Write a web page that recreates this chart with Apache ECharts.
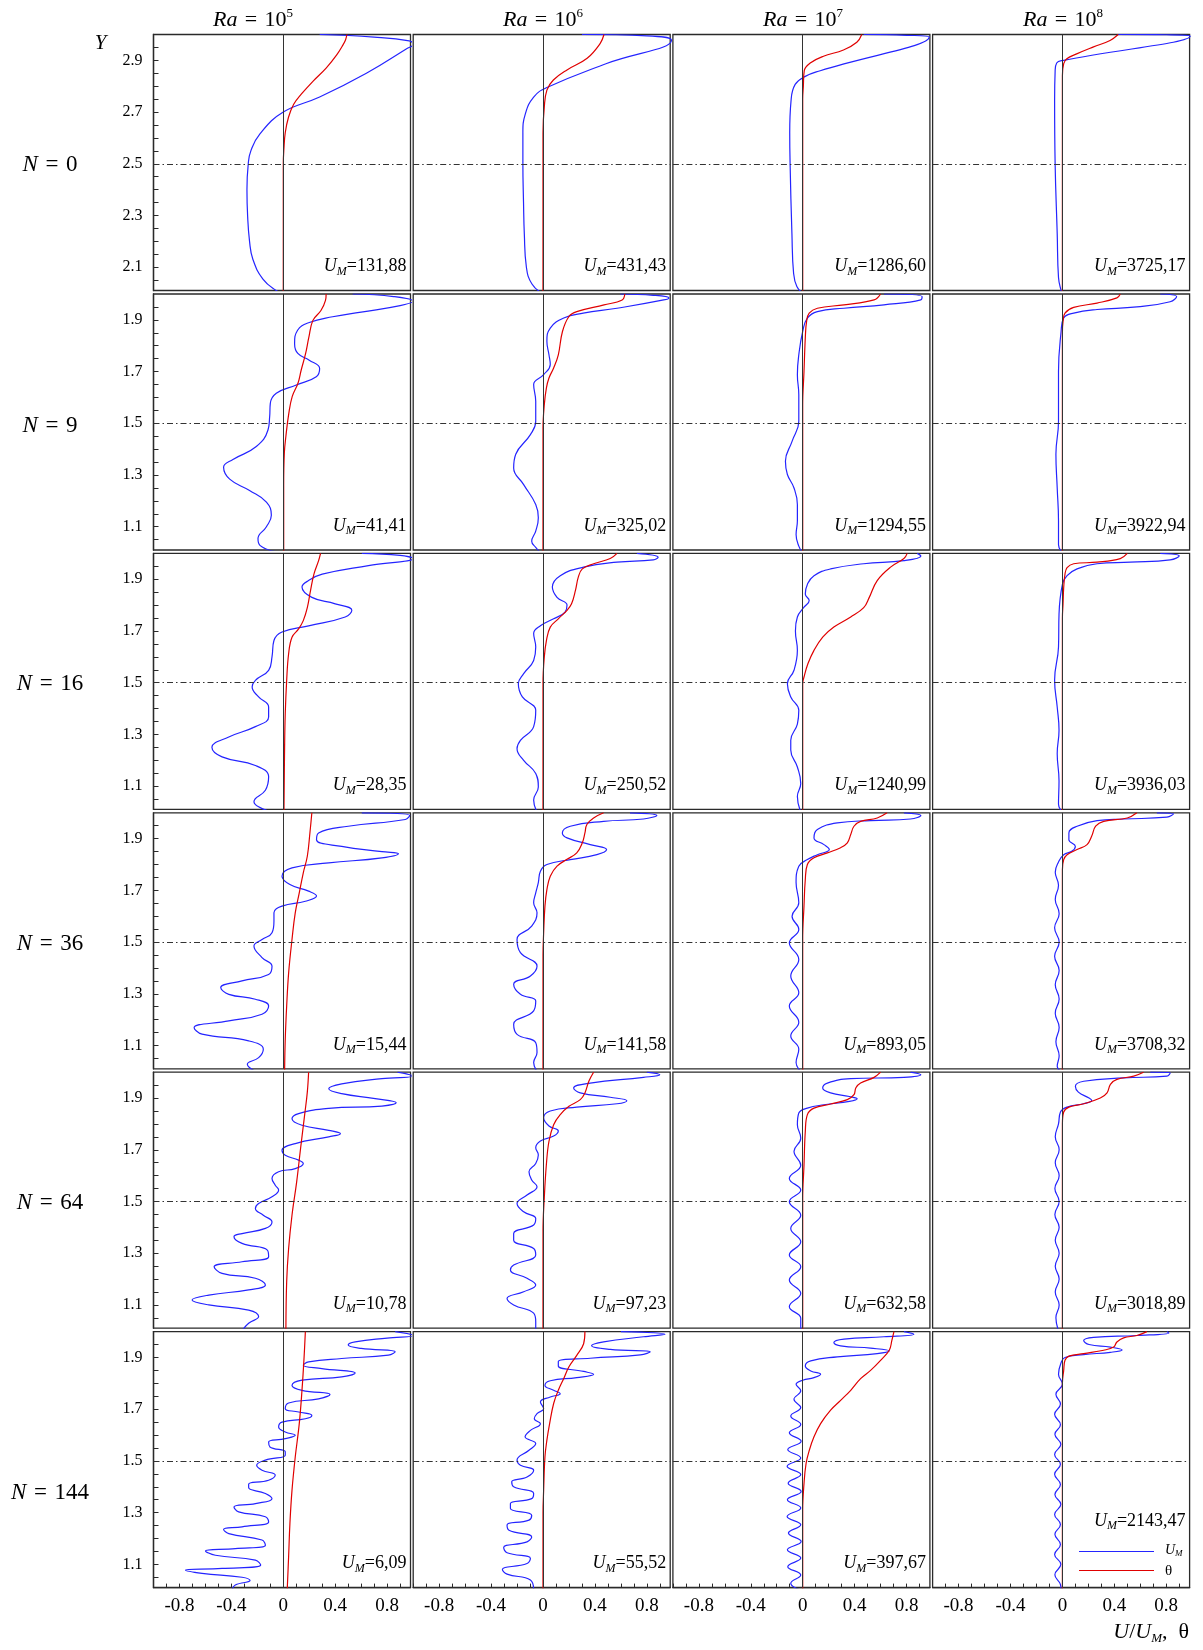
<!DOCTYPE html>
<html>
<head>
<meta charset="utf-8">
<script src="https://cdn.jsdelivr.net/npm/echarts@6/dist/echarts.min.js"></script>
<style>
  html, body { margin: 0; padding: 0; background: #fff; }
  #chart { width: 1203px; height: 1650px; }
</style>
</head>
<body>
<div id="chart"></div>
<script>
// ---- Column / row headings ----
const raExponents = ['5', '6', '7', '8'];
const nValues = ['0', '9', '16', '36', '64', '144'];

// ---- Maximum velocity printed in each panel (per row, Ra = 1e5 .. 1e8) ----
const umN0   = ['131,88', '431,43', '1286,60', '3725,17'];
const umN9   = ['41,41', '325,02', '1294,55', '3922,94'];
const umN16  = ['28,35', '250,52', '1240,99', '3936,03'];
const umN36  = ['15,44', '141,58', '893,05', '3708,32'];
const umN64  = ['10,78', '97,23', '632,58', '3018,89'];
const umN144 = ['6,09', '55,52', '397,67', '2143,47'];

// ---- Tick positions and labels ----
const xTickValues = [-1.0, -0.9, -0.8, -0.7, -0.6, -0.5, -0.4, -0.3, -0.2, -0.1, 0, 0.1, 0.2, 0.3, 0.4, 0.5, 0.6, 0.7, 0.8, 0.9];
const xLabelValues = [-0.8, -0.4, 0, 0.4, 0.8];
const yTickValuesTop = [2.05, 2.1, 2.15, 2.2, 2.25, 2.3, 2.35, 2.4, 2.45, 2.5, 2.55, 2.6, 2.65, 2.7, 2.75, 2.8, 2.85, 2.9, 2.95];
const yLabelValuesTop = [2.1, 2.3, 2.5, 2.7, 2.9];
const yTickValues = [1.05, 1.1, 1.15, 1.2, 1.25, 1.3, 1.35, 1.4, 1.45, 1.5, 1.55, 1.6, 1.65, 1.7, 1.75, 1.8, 1.85, 1.9, 1.95];
const yLabelValues = [1.1, 1.3, 1.5, 1.7, 1.9];
const midLines = [2.5, 1.5, 1.5, 1.5, 1.5, 1.5];

// ---- Profiles [U/U_M or theta, Y] ----
// N = 0
const uN0Ra5 = [[0.28,3.0],[0.7,2.99],[0.97,2.975],[1.0,2.962],[0.95,2.945],[0.64,2.85],[0.28,2.758],[0,2.70],[-0.18,2.616],[-0.25,2.55],[-0.27,2.5],[-0.28,2.4],[-0.275,2.3],[-0.26,2.2],[-0.234,2.13],[-0.157,2.054],[-0.055,2.01],[0,2.0]];
const tN0Ra5 = [[0.49,3.0],[0.48,2.98],[0.46,2.96],[0.41,2.92],[0.33,2.87],[0.23,2.82],[0.14,2.77],[0.08,2.73],[0.04,2.68],[0.015,2.62],[0.005,2.56],[0,2.5],[0,2.0]];
const uN0Ra6 = [[0.30,3.0],[0.8,2.995],[0.99,2.978],[0.49,2.888],[0.03,2.795],[-0.072,2.758],[-0.136,2.693],[-0.155,2.62],[-0.155,2.5],[-0.15,2.35],[-0.144,2.23],[-0.128,2.10],[-0.085,2.035],[-0.008,2.0]];
const tN0Ra6 = [[0.47,3.0],[0.44,2.965],[0.34,2.908],[0.185,2.863],[0.08,2.824],[0.03,2.785],[0.01,2.72],[0,2.62],[0,2.0]];
const uN0Ra7 = [[0.47,3.0],[0.8,2.997],[0.975,2.99],[0.135,2.86],[0.02,2.838],[-0.058,2.807],[-0.09,2.743],[-0.1,2.62],[-0.097,2.5],[-0.083,2.23],[-0.07,2.076],[-0.045,2.025],[0,2.0]];
const tN0Ra7 = [[0.455,3.0],[0.417,2.97],[0.314,2.94],[0.16,2.916],[0.058,2.89],[0.012,2.86],[0.005,2.80],[0,2.75],[0,2.0]];
const uN0Ra8 = [[0.43,3.0],[0.8,2.999],[0.985,2.994],[0.01,2.90],[-0.044,2.89],[-0.056,2.858],[-0.06,2.745],[-0.056,2.5],[-0.04,2.23],[-0.03,2.06],[-0.01,2.01],[0,2.0]];
const tN0Ra8 = [[0.43,3.0],[0.367,2.977],[0.24,2.952],[0.11,2.925],[0.034,2.906],[0.01,2.887],[0,2.84],[0,2.0]];
// N = 9
const uN9Ra5 = [[0.535,2.0],[0.85,1.99],[1.0,1.972],[0.9,1.955],[0.6,1.93],[0.38,1.912],[0.2,1.89],[0.11,1.86],[0.087,1.808],[0.112,1.77],[0.2,1.744],[0.28,1.712],[0.254,1.68],[0.1,1.648],[-0.054,1.616],[-0.1,1.577],[-0.105,1.526],[-0.118,1.474],[-0.208,1.41],[-0.388,1.36],[-0.46,1.33],[-0.413,1.284],[-0.26,1.24],[-0.13,1.195],[-0.092,1.144],[-0.13,1.1],[-0.195,1.054],[-0.18,1.028],[-0.054,1.003]];
const tN9Ra5 = [[0.33,2.0],[0.325,1.975],[0.29,1.936],[0.228,1.898],[0.197,1.833],[0.172,1.77],[0.138,1.706],[0.113,1.655],[0.069,1.604],[0.043,1.54],[0.02,1.45],[0.008,1.385],[0.003,1.26],[0.003,1.0]];
const uN9Ra6 = [[0.595,2.0],[0.85,1.995],[0.97,1.985],[0.93,1.977],[0.57,1.945],[0.31,1.926],[0.16,1.907],[0.056,1.868],[0.03,1.817],[0.046,1.765],[0.056,1.727],[0.005,1.688],[-0.072,1.65],[-0.056,1.585],[-0.056,1.508],[-0.097,1.456],[-0.21,1.38],[-0.226,1.327],[-0.149,1.263],[-0.056,1.186],[-0.036,1.135],[-0.056,1.083],[-0.087,1.044],[-0.056,1.02],[-0.02,1.0]];
const tN9Ra6 = [[0.63,2.0],[0.61,1.977],[0.47,1.958],[0.26,1.932],[0.2,1.913],[0.15,1.855],[0.118,1.765],[0.082,1.714],[0.046,1.675],[0.026,1.636],[0.01,1.572],[0,1.48],[0,1.0]];
const uN9Ra7 = [[0.626,2.0],[0.92,1.99],[0.91,1.977],[0.626,1.958],[0.318,1.945],[0.113,1.932],[0.036,1.907],[0,1.855],[-0.03,1.765],[-0.041,1.688],[-0.03,1.61],[-0.03,1.508],[-0.082,1.43],[-0.133,1.353],[-0.118,1.302],[-0.067,1.25],[-0.041,1.186],[-0.041,1.122],[-0.051,1.07],[-0.03,1.025],[0,1.0]];
const tN9Ra7 = [[0.6,2.0],[0.55,1.977],[0.318,1.958],[0.113,1.945],[0.05,1.926],[0.03,1.894],[0.02,1.83],[0.01,1.7],[0,1.57],[0,1.0]];
const uN9Ra8 = [[0.754,2.0],[0.88,1.99],[0.83,1.97],[0.574,1.95],[0.267,1.94],[0.087,1.926],[0.01,1.907],[-0.01,1.855],[-0.03,1.7],[-0.03,1.508],[-0.05,1.38],[-0.04,1.25],[-0.03,1.122],[-0.03,1.03],[0,1.0]];
const tN9Ra8 = [[0.446,2.0],[0.42,1.985],[0.267,1.965],[0.087,1.948],[0.02,1.926],[0.005,1.894],[0,1.85],[0,1.0]];
// N = 16
const uN16Ra5 = [[0.605,2.0],[0.9,1.992],[1.0,1.98],[0.656,1.953],[0.3,1.92],[0.195,1.895],[0.144,1.87],[0.22,1.83],[0.4,1.805],[0.528,1.78],[0.477,1.754],[0.195,1.72],[-0.01,1.696],[-0.072,1.663],[-0.087,1.6],[-0.113,1.548],[-0.215,1.509],[-0.24,1.483],[-0.19,1.445],[-0.113,1.406],[-0.113,1.367],[-0.215,1.33],[-0.42,1.29],[-0.55,1.25],[-0.472,1.213],[-0.215,1.18],[-0.113,1.136],[-0.138,1.084],[-0.226,1.04],[-0.19,1.02],[-0.087,1.0]];
const tN16Ra5 = [[0.287,2.0],[0.272,1.972],[0.236,1.92],[0.21,1.857],[0.185,1.79],[0.154,1.74],[0.118,1.708],[0.067,1.676],[0.041,1.612],[0.026,1.509],[0.015,1.38],[0.01,1.25],[0.005,1.0]];
const uN16Ra6 = [[0.723,2.0],[0.887,1.985],[0.85,1.975],[0.57,1.966],[0.313,1.947],[0.133,1.914],[0.072,1.87],[0.108,1.83],[0.185,1.8],[0.17,1.773],[0.082,1.747],[-0.02,1.72],[-0.072,1.69],[-0.056,1.638],[-0.072,1.586],[-0.149,1.535],[-0.19,1.496],[-0.159,1.445],[-0.056,1.393],[-0.072,1.33],[-0.174,1.277],[-0.2,1.245],[-0.149,1.2],[-0.056,1.149],[-0.036,1.097],[-0.072,1.046],[-0.046,1.0]];
const tN16Ra6 = [[0.57,2.0],[0.518,1.98],[0.39,1.96],[0.303,1.94],[0.272,1.908],[0.25,1.857],[0.22,1.805],[0.185,1.78],[0.118,1.747],[0.056,1.715],[0.026,1.662],[0.01,1.6],[0,1.5],[0,1.0]];
const uN16Ra7 = [[0.882,2.0],[0.91,1.99],[0.78,1.972],[0.47,1.96],[0.215,1.94],[0.087,1.914],[0.036,1.88],[0.02,1.843],[0.05,1.818],[0.01,1.792],[-0.041,1.754],[-0.056,1.7],[-0.041,1.625],[-0.067,1.548],[-0.118,1.496],[-0.092,1.445],[-0.03,1.393],[-0.041,1.34],[-0.092,1.277],[-0.092,1.24],[-0.041,1.174],[-0.015,1.11],[-0.041,1.06],[-0.015,1.0]];
const tN16Ra7 = [[0.805,2.0],[0.78,1.98],[0.677,1.947],[0.574,1.895],[0.513,1.83],[0.47,1.79],[0.37,1.754],[0.24,1.715],[0.154,1.676],[0.087,1.625],[0.04,1.573],[0.01,1.522],[0,1.496],[0,1.0]];
const uN16Ra8 = [[0.754,2.0],[0.9,1.99],[0.83,1.975],[0.523,1.966],[0.267,1.96],[0.113,1.94],[0.036,1.914],[0,1.88],[-0.026,1.766],[-0.03,1.638],[-0.06,1.51],[-0.04,1.406],[-0.026,1.316],[-0.04,1.226],[-0.026,1.12],[-0.03,1.03],[0,1.0]];
const tN16Ra8 = [[0.5,2.0],[0.446,1.98],[0.267,1.966],[0.087,1.96],[0.036,1.945],[0.02,1.92],[0.01,1.868],[0.005,1.805],[0,1.75],[0,1.0]];
// N = 36
const uN36Ra5 = [[0.605,2.0],[0.974,1.99],[0.94,1.974],[0.5,1.948],[0.272,1.922],[0.256,1.896],[0.45,1.87],[0.76,1.85],[0.887,1.842],[0.76,1.826],[0.35,1.806],[0.067,1.787],[-0.01,1.755],[0.051,1.723],[0.195,1.697],[0.256,1.678],[0.17,1.658],[-0.01,1.639],[-0.072,1.613],[-0.072,1.581],[-0.087,1.536],[-0.164,1.51],[-0.226,1.485],[-0.164,1.44],[-0.087,1.407],[-0.113,1.375],[-0.318,1.35],[-0.482,1.324],[-0.42,1.298],[-0.215,1.279],[-0.113,1.253],[-0.164,1.221],[-0.42,1.195],[-0.687,1.169],[-0.626,1.144],[-0.267,1.118],[-0.154,1.086],[-0.19,1.053],[-0.277,1.028],[-0.215,1.0]];
const tN36Ra5 = [[0.22,2.0],[0.205,1.922],[0.185,1.832],[0.154,1.768],[0.123,1.69],[0.092,1.613],[0.067,1.51],[0.041,1.38],[0.026,1.253],[0.015,1.124],[0.01,1.0]];
const uN36Ra6 = [[0.67,2.0],[0.877,1.99],[0.774,1.976],[0.467,1.967],[0.21,1.948],[0.149,1.922],[0.185,1.903],[0.364,1.877],[0.49,1.858],[0.415,1.838],[0.21,1.819],[0.03,1.8],[-0.02,1.774],[-0.036,1.73],[-0.056,1.69],[-0.072,1.652],[-0.046,1.613],[-0.087,1.562],[-0.2,1.51],[-0.174,1.459],[-0.046,1.407],[-0.097,1.369],[-0.226,1.337],[-0.174,1.298],[-0.056,1.272],[-0.072,1.234],[-0.226,1.182],[-0.2,1.143],[-0.056,1.111],[-0.046,1.073],[-0.072,1.034],[-0.046,1.0]];
const tN36Ra6 = [[0.467,2.0],[0.39,1.98],[0.338,1.955],[0.323,1.922],[0.303,1.884],[0.26,1.845],[0.185,1.82],[0.108,1.794],[0.056,1.755],[0.03,1.703],[0.015,1.639],[0.005,1.536],[0,1.45],[0,1.0]];
const uN36Ra7 = [[0.78,2.0],[0.91,1.99],[0.83,1.976],[0.523,1.97],[0.267,1.961],[0.113,1.935],[0.087,1.903],[0.164,1.877],[0.205,1.858],[0.113,1.838],[0.036,1.819],[-0.03,1.793],[-0.051,1.73],[-0.03,1.652],[-0.082,1.6],[-0.03,1.549],[-0.103,1.497],[-0.03,1.433],[-0.092,1.369],[-0.03,1.304],[-0.103,1.253],[-0.03,1.19],[-0.092,1.137],[-0.03,1.086],[-0.051,1.034],[-0.015,1.0]];
const tN36Ra7 = [[0.65,2.0],[0.574,1.98],[0.446,1.967],[0.395,1.948],[0.37,1.916],[0.344,1.884],[0.292,1.865],[0.19,1.845],[0.087,1.826],[0.036,1.8],[0.02,1.742],[0.01,1.64],[0,1.51],[0,1.0]];
const uN36Ra8 = [[0.728,2.0],[0.856,1.996],[0.805,1.983],[0.472,1.976],[0.267,1.97],[0.113,1.948],[0.05,1.922],[0.05,1.896],[0.1,1.87],[0.072,1.851],[0.01,1.838],[-0.03,1.81],[-0.055,1.77],[-0.03,1.72],[-0.055,1.665],[-0.025,1.61],[-0.06,1.555],[-0.025,1.5],[-0.06,1.445],[-0.025,1.39],[-0.055,1.335],[-0.025,1.28],[-0.055,1.225],[-0.025,1.17],[-0.05,1.115],[-0.025,1.06],[-0.04,1.02],[-0.01,1.0]];
const tN36Ra8 = [[0.574,2.0],[0.5,1.98],[0.318,1.967],[0.256,1.948],[0.226,1.91],[0.19,1.877],[0.113,1.858],[0.036,1.838],[0.01,1.819],[0,1.78],[0,1.0]];
// N = 64
const uN64Ra5 = [[0.88,2.0],[1.0,1.985],[0.76,1.975],[0.45,1.955],[0.35,1.936],[0.45,1.917],[0.708,1.898],[0.87,1.882],[0.76,1.869],[0.35,1.86],[0.118,1.84],[0.067,1.82],[0.144,1.795],[0.35,1.775],[0.44,1.762],[0.35,1.75],[0.092,1.724],[-0.01,1.698],[0.015,1.679],[0.118,1.66],[0.154,1.647],[0.092,1.627],[-0.036,1.615],[-0.087,1.589],[-0.062,1.563],[-0.036,1.544],[-0.087,1.518],[-0.19,1.492],[-0.215,1.473],[-0.154,1.447],[-0.087,1.421],[-0.138,1.396],[-0.318,1.376],[-0.38,1.364],[-0.318,1.338],[-0.123,1.312],[-0.113,1.286],[-0.318,1.267],[-0.533,1.248],[-0.472,1.222],[-0.215,1.203],[-0.138,1.177],[-0.267,1.158],[-0.574,1.138],[-0.703,1.119],[-0.574,1.1],[-0.267,1.08],[-0.19,1.055],[-0.267,1.029],[-0.318,1.0]];
const tN64Ra5 = [[0.195,2.0],[0.185,1.923],[0.164,1.833],[0.133,1.705],[0.103,1.576],[0.067,1.447],[0.041,1.318],[0.026,1.19],[0.02,1.0]];
const uN64Ra6 = [[0.8,2.0],[0.9,1.99],[0.774,1.98],[0.364,1.958],[0.236,1.939],[0.287,1.92],[0.518,1.903],[0.646,1.89],[0.57,1.878],[0.26,1.865],[0.056,1.85],[0.005,1.824],[0.046,1.792],[0.118,1.773],[0.082,1.753],[-0.02,1.734],[-0.056,1.708],[-0.036,1.68],[-0.056,1.647],[-0.108,1.615],[-0.087,1.583],[-0.046,1.557],[-0.123,1.525],[-0.2,1.492],[-0.149,1.46],[-0.056,1.434],[-0.072,1.409],[-0.226,1.376],[-0.226,1.35],[-0.072,1.318],[-0.056,1.293],[-0.226,1.254],[-0.251,1.235],[-0.123,1.203],[-0.056,1.177],[-0.149,1.151],[-0.277,1.125],[-0.226,1.1],[-0.072,1.068],[-0.056,1.035],[-0.056,1.0]];
const tN64Ra6 = [[0.39,2.0],[0.354,1.966],[0.323,1.92],[0.287,1.894],[0.2,1.868],[0.133,1.836],[0.082,1.797],[0.046,1.733],[0.026,1.643],[0.01,1.515],[0,1.386],[0,1.0]];
const uN64Ra7 = [[0.83,2.0],[0.91,1.99],[0.78,1.98],[0.37,1.975],[0.19,1.958],[0.154,1.939],[0.215,1.92],[0.36,1.906],[0.42,1.897],[0.36,1.887],[0.164,1.874],[0.036,1.861],[-0.03,1.842],[-0.041,1.797],[-0.015,1.745],[-0.067,1.694],[-0.015,1.64],[-0.103,1.589],[-0.015,1.544],[-0.103,1.499],[-0.015,1.447],[-0.092,1.396],[-0.015,1.344],[-0.103,1.293],[-0.015,1.248],[-0.103,1.196],[-0.015,1.145],[-0.103,1.093],[-0.015,1.048],[-0.015,1.0]];
const tN64Ra7 = [[0.6,2.0],[0.55,1.98],[0.446,1.958],[0.41,1.94],[0.395,1.913],[0.344,1.894],[0.215,1.877],[0.087,1.861],[0.036,1.836],[0.02,1.771],[0.01,1.64],[0,1.51],[0,1.0]];
const uN64Ra8 = [[0.677,2.0],[0.83,1.997],[0.805,1.985],[0.472,1.978],[0.164,1.965],[0.1,1.946],[0.123,1.923],[0.205,1.9],[0.226,1.891],[0.164,1.878],[0.036,1.865],[-0.015,1.846],[-0.03,1.8],[-0.055,1.75],[-0.025,1.7],[-0.055,1.65],[-0.025,1.6],[-0.058,1.55],[-0.025,1.5],[-0.058,1.45],[-0.025,1.4],[-0.055,1.35],[-0.025,1.3],[-0.055,1.25],[-0.025,1.2],[-0.055,1.15],[-0.025,1.1],[-0.05,1.05],[-0.03,1.0]];
const tN64Ra8 = [[0.625,2.0],[0.55,1.985],[0.42,1.972],[0.37,1.953],[0.344,1.92],[0.292,1.9],[0.164,1.878],[0.05,1.865],[0.01,1.846],[0,1.8],[0,1.0]];
// N = 144
const uN144Ra5 = [[0.862,2.0],[1.0,1.985],[0.8,1.975],[0.554,1.96],[0.5,1.948],[0.6,1.935],[0.862,1.922],[0.81,1.909],[0.45,1.896],[0.195,1.883],[0.154,1.87],[0.297,1.857],[0.554,1.84],[0.45,1.825],[0.144,1.812],[0.067,1.792],[0.144,1.773],[0.36,1.757],[0.272,1.74],[0.041,1.724],[0.015,1.702],[0.118,1.689],[0.22,1.676],[0.17,1.663],[-0.01,1.65],[-0.036,1.631],[0.015,1.612],[0.092,1.599],[0.015,1.586],[-0.113,1.573],[-0.103,1.554],[0.015,1.535],[0.015,1.522],[-0.138,1.503],[-0.205,1.483],[-0.164,1.464],[-0.062,1.445],[-0.113,1.425],[-0.267,1.41],[-0.267,1.397],[-0.138,1.374],[-0.087,1.354],[-0.215,1.335],[-0.38,1.322],[-0.344,1.303],[-0.138,1.284],[-0.113,1.264],[-0.318,1.245],[-0.46,1.235],[-0.42,1.219],[-0.164,1.194],[-0.138,1.174],[-0.37,1.161],[-0.6,1.152],[-0.523,1.135],[-0.215,1.116],[-0.174,1.097],[-0.472,1.084],[-0.754,1.078],[-0.626,1.065],[-0.318,1.05],[-0.256,1.037],[-0.37,1.02],[-0.395,1.0]];
const tN144Ra5 = [[0.17,2.0],[0.16,1.9],[0.144,1.773],[0.123,1.644],[0.092,1.515],[0.067,1.386],[0.051,1.258],[0.041,1.13],[0.03,1.0]];
const uN144Ra6 = [[0.6,2.0],[0.94,1.99],[0.774,1.98],[0.467,1.96],[0.374,1.945],[0.518,1.931],[0.826,1.922],[0.75,1.91],[0.364,1.897],[0.118,1.884],[0.118,1.867],[0.313,1.846],[0.39,1.835],[0.26,1.822],[0.056,1.81],[0.015,1.792],[0.082,1.773],[0.133,1.76],[0.056,1.747],[-0.02,1.728],[0.005,1.702],[-0.046,1.683],[-0.067,1.663],[-0.02,1.644],[-0.097,1.618],[-0.138,1.593],[-0.056,1.567],[-0.108,1.541],[-0.2,1.503],[-0.174,1.483],[-0.072,1.464],[-0.123,1.438],[-0.241,1.419],[-0.226,1.4],[-0.072,1.374],[-0.087,1.354],[-0.251,1.335],[-0.251,1.316],[-0.087,1.29],[-0.108,1.271],[-0.277,1.252],[-0.262,1.232],[-0.087,1.206],[-0.123,1.187],[-0.303,1.165],[-0.277,1.145],[-0.097,1.123],[-0.123,1.103],[-0.313,1.08],[-0.277,1.062],[-0.097,1.039],[-0.072,1.0]];
const tN144Ra6 = [[0.323,2.0],[0.313,1.953],[0.26,1.908],[0.2,1.864],[0.16,1.819],[0.118,1.773],[0.082,1.722],[0.051,1.644],[0.03,1.58],[0.015,1.515],[0.005,1.386],[0,1.3],[0,1.0]];
const uN144Ra7 = [[0.78,2.0],[0.856,1.99],[0.626,1.98],[0.318,1.971],[0.24,1.958],[0.292,1.945],[0.523,1.936],[0.667,1.925],[0.574,1.915],[0.267,1.902],[0.062,1.887],[0.02,1.867],[0.062,1.848],[0.138,1.835],[0.087,1.822],[0,1.812],[-0.051,1.796],[-0.015,1.771],[-0.067,1.738],[-0.015,1.706],[-0.092,1.674],[-0.015,1.641],[-0.103,1.609],[-0.012,1.576],[-0.115,1.544],[-0.015,1.511],[-0.12,1.479],[-0.015,1.447],[-0.112,1.414],[-0.012,1.382],[-0.118,1.35],[-0.015,1.318],[-0.12,1.285],[-0.015,1.253],[-0.11,1.221],[-0.012,1.188],[-0.118,1.156],[-0.015,1.124],[-0.115,1.091],[-0.015,1.059],[-0.092,1.027],[-0.015,1.0]];
const tN144Ra7 = [[0.703,2.0],[0.687,1.966],[0.667,1.928],[0.6,1.889],[0.523,1.85],[0.446,1.818],[0.37,1.773],[0.292,1.734],[0.215,1.696],[0.138,1.644],[0.087,1.593],[0.051,1.541],[0.026,1.49],[0.01,1.412],[0,1.309],[0,1.0]];
const uN144Ra8 = [[0.805,2.0],[0.82,1.995],[0.574,1.985],[0.24,1.978],[0.164,1.966],[0.205,1.95],[0.37,1.94],[0.46,1.929],[0.37,1.92],[0.164,1.911],[0.02,1.9],[-0.01,1.88],[-0.03,1.835],[0,1.797],[-0.05,1.758],[-0.015,1.72],[-0.06,1.68],[-0.015,1.64],[-0.058,1.603],[-0.012,1.564],[-0.06,1.525],[-0.015,1.487],[-0.06,1.448],[-0.015,1.409],[-0.058,1.37],[-0.012,1.332],[-0.06,1.293],[-0.015,1.254],[-0.058,1.216],[-0.015,1.177],[-0.06,1.138],[-0.012,1.1],[-0.058,1.06],[-0.015,1.022],[-0.01,1.0]];
const tN144Ra8 = [[0.651,2.0],[0.574,1.985],[0.472,1.976],[0.42,1.96],[0.395,1.94],[0.318,1.928],[0.164,1.915],[0.05,1.905],[0.02,1.889],[0.01,1.85],[0,1.8],[0,1.0]];

// ---- Panel tables (row = N, column = Ra) ----
const velocityProfiles = [
  [uN0Ra5, uN0Ra6, uN0Ra7, uN0Ra8],
  [uN9Ra5, uN9Ra6, uN9Ra7, uN9Ra8],
  [uN16Ra5, uN16Ra6, uN16Ra7, uN16Ra8],
  [uN36Ra5, uN36Ra6, uN36Ra7, uN36Ra8],
  [uN64Ra5, uN64Ra6, uN64Ra7, uN64Ra8],
  [uN144Ra5, uN144Ra6, uN144Ra7, uN144Ra8]
];
const thetaProfiles = [
  [tN0Ra5, tN0Ra6, tN0Ra7, tN0Ra8],
  [tN9Ra5, tN9Ra6, tN9Ra7, tN9Ra8],
  [tN16Ra5, tN16Ra6, tN16Ra7, tN16Ra8],
  [tN36Ra5, tN36Ra6, tN36Ra7, tN36Ra8],
  [tN64Ra5, tN64Ra6, tN64Ra7, tN64Ra8],
  [tN144Ra5, tN144Ra6, tN144Ra7, tN144Ra8]
];
const umTable = [umN0, umN9, umN16, umN36, umN64, umN144];

// ---- Layout ----
const FONT = 'Liberation Serif';
const BLUE = '#2424ff';
const RED = '#e00000';
const FRAME = '#2a2a2a';
const COL_LEFT = [153.5, 413.2, 672.9, 932.6];
const ROW_TOP = [34.5, 294, 553.4, 812.8, 1072.2, 1331.6];
const PANEL_W = 257, PANEL_H = 256;
const TITLE_X = [253, 543, 803, 1063];
const ROW_LABEL_Y = [165, 426, 684, 944, 1203, 1493];
const SP = '\u2004';

const fmt = v => String(Math.round(v * 10) / 10);

const grids = [], xAxes = [], yAxes = [], series = [], graphics = [];

for (let r = 0; r < 6; r++) {
  for (let c = 0; c < 4; c++) {
    const k = r * 4 + c;
    const isBottom = r === 5, isLeft = c === 0;
    grids.push({
      left: COL_LEFT[c], top: ROW_TOP[r], width: PANEL_W, height: PANEL_H,
      show: true, borderColor: FRAME, borderWidth: 1.3, containLabel: false
    });
    xAxes.push({
      gridIndex: k, type: 'value', min: -1, max: 0.98, position: 'bottom',
      axisLine: { show: isBottom, onZero: false, lineStyle: { color: FRAME, width: 1.3 } },
      axisTick: { show: isBottom, inside: true, length: 4, lineStyle: { color: FRAME }, customValues: xTickValues },
      axisLabel: { show: isBottom, customValues: xLabelValues, formatter: fmt, fontFamily: FONT, fontSize: 19, color: '#000', margin: 9 },
      splitLine: { show: false }
    });
    const top = r === 0;
    yAxes.push({
      gridIndex: k, type: 'value', min: top ? 2.01 : 1.01, max: top ? 3.0 : 2.0, position: 'left',
      axisLine: { show: isLeft, onZero: false, lineStyle: { color: FRAME, width: 1.3 } },
      axisTick: { show: isLeft, inside: true, length: 5, lineStyle: { color: FRAME }, customValues: top ? yTickValuesTop : yTickValues },
      axisLabel: { show: isLeft, customValues: top ? yLabelValuesTop : yLabelValues, formatter: fmt, fontFamily: FONT, fontSize: 16, color: '#000', margin: 11 },
      splitLine: { show: false }
    });
    series.push({
      type: 'line', xAxisIndex: k, yAxisIndex: k, data: velocityProfiles[r][c],
      showSymbol: false, smooth: 0.45, silent: true, z: 3,
      lineStyle: { color: BLUE, width: 1.2 },
      markLine: {
        silent: true, symbol: ['none', 'none'], label: { show: false }, animation: false,
        data: [
          { xAxis: 0, lineStyle: { color: '#333', width: 1, type: 'solid' } },
          { yAxis: midLines[r], lineStyle: { color: '#333', width: 1, type: [6, 3, 1.5, 3] } }
        ]
      }
    });
    series.push({
      type: 'line', xAxisIndex: k, yAxisIndex: k, data: thetaProfiles[r][c],
      showSymbol: false, smooth: 0.4, silent: true, z: 4,
      lineStyle: { color: RED, width: 1.2 }
    });

    // U_M value in the panel corner
    const lastPanel = r === 5 && c === 3;
    graphics.push({
      type: 'text', silent: true, z: 10,
      x: COL_LEFT[c] + PANEL_W - 4,
      y: lastPanel ? 1521 : ROW_TOP[r] + PANEL_H - 24,
      style: {
        text: '{u|U}{s|M}=' + umTable[r][c],
        align: 'right', verticalAlign: 'middle', textAlign: 'right', textVerticalAlign: 'middle',
        fontFamily: FONT, fontSize: 18, lineHeight: 22, fill: '#000',
        rich: {
          u: { fontFamily: FONT, fontStyle: 'italic', fontSize: 18, lineHeight: 22, fill: '#000' },
          s: { fontFamily: FONT, fontStyle: 'italic', fontSize: 12, lineHeight: 12, verticalAlign: 'bottom', fill: '#000' }
        }
      }
    });
  }
}

// Column titles
raExponents.forEach((e, c) => {
  graphics.push({
    type: 'text', silent: true, x: TITLE_X[c], y: 20,
    style: {
      text: '{i|Ra}' + SP + '=' + SP + '10{p|' + e + '}',
      align: 'center', verticalAlign: 'middle', textAlign: 'center', textVerticalAlign: 'middle',
      fontFamily: FONT, fontSize: 22, lineHeight: 26, fill: '#000',
      rich: {
        i: { fontFamily: FONT, fontStyle: 'italic', fontSize: 22, lineHeight: 26, fill: '#000' },
        p: { fontFamily: FONT, fontSize: 13, lineHeight: 15, verticalAlign: 'top', fill: '#000' }
      }
    }
  });
});

// Row titles
nValues.forEach((n, r) => {
  graphics.push({
    type: 'text', silent: true, x: 50, y: ROW_LABEL_Y[r],
    style: {
      text: '{i|N}' + SP + '=' + SP + n,
      align: 'center', verticalAlign: 'middle', textAlign: 'center', textVerticalAlign: 'middle',
      fontFamily: FONT, fontSize: 23, lineHeight: 27, fill: '#000',
      rich: { i: { fontFamily: FONT, fontStyle: 'italic', fontSize: 23, lineHeight: 27, fill: '#000' } }
    }
  });
});

// Axis names
graphics.push({
  type: 'text', silent: true, x: 100.5, y: 43.5,
  style: {
    text: 'Y', align: 'center', verticalAlign: 'middle', textAlign: 'center', textVerticalAlign: 'middle',
    fontFamily: FONT, fontStyle: 'italic', fontSize: 21, fill: '#000'
  }
});
graphics.push({
  type: 'text', silent: true, x: 1189, y: 1632,
  style: {
    text: '{i|U}/{i|U}{s|M},' + '\u2002' + 'θ',
    align: 'right', verticalAlign: 'middle', textAlign: 'right', textVerticalAlign: 'middle',
    fontFamily: FONT, fontSize: 22, lineHeight: 26, fill: '#000',
    rich: {
      i: { fontFamily: FONT, fontStyle: 'italic', fontSize: 22, lineHeight: 26, fill: '#000' },
      s: { fontFamily: FONT, fontStyle: 'italic', fontSize: 13, lineHeight: 13, verticalAlign: 'bottom', fill: '#000' }
    }
  }
});

// Legend inside the last panel
graphics.push({ type: 'line', silent: true, z: 10, shape: { x1: 1079, y1: 1551.5, x2: 1154, y2: 1551.5 }, style: { stroke: BLUE, lineWidth: 1.2 } });
graphics.push({ type: 'line', silent: true, z: 10, shape: { x1: 1079, y1: 1570.5, x2: 1154, y2: 1570.5 }, style: { stroke: RED, lineWidth: 1.2 } });
graphics.push({
  type: 'text', silent: true, z: 10, x: 1165, y: 1550,
  style: {
    text: '{i|U}{s|M}', align: 'left', verticalAlign: 'middle', textAlign: 'left', textVerticalAlign: 'middle',
    fontFamily: FONT, fontSize: 14, lineHeight: 16, fill: '#000',
    rich: {
      i: { fontFamily: FONT, fontStyle: 'italic', fontSize: 14, lineHeight: 16, fill: '#000' },
      s: { fontFamily: FONT, fontStyle: 'italic', fontSize: 9, lineHeight: 9, verticalAlign: 'bottom', fill: '#000' }
    }
  }
});
graphics.push({
  type: 'text', silent: true, z: 10, x: 1165, y: 1571,
  style: {
    text: 'θ', align: 'left', verticalAlign: 'middle', textAlign: 'left', textVerticalAlign: 'middle',
    fontFamily: FONT, fontSize: 15, fill: '#000'
  }
});

const chart = echarts.init(document.getElementById('chart'), null, { renderer: 'canvas', width: 1203, height: 1650 });
chart.setOption({
  animation: false,
  backgroundColor: '#fff',
  grid: grids,
  xAxis: xAxes,
  yAxis: yAxes,
  series: series,
  graphic: { elements: graphics }
});
</script>
</body>
</html>
